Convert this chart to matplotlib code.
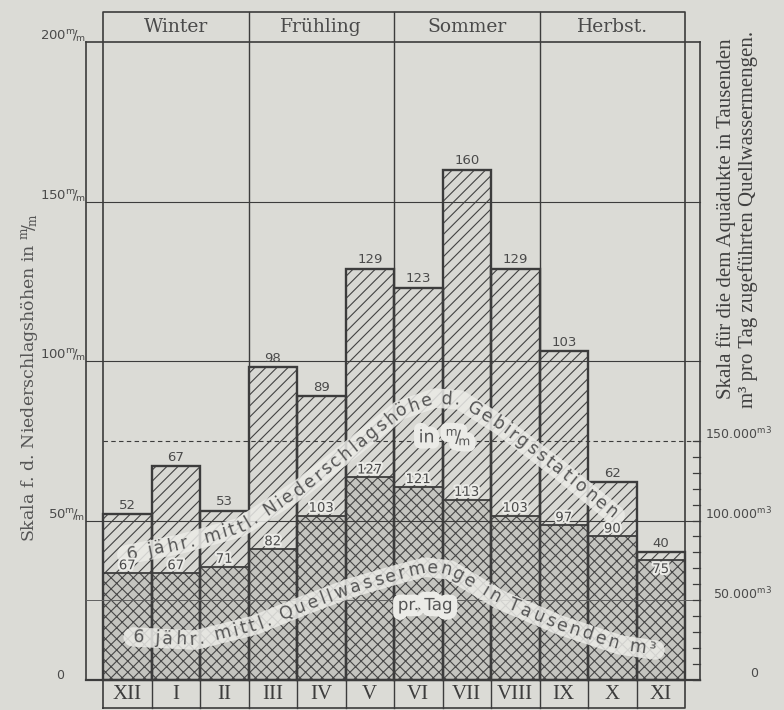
import numpy as np
import matplotlib
matplotlib.use("Agg")
import matplotlib.pyplot as plt
from matplotlib import patheffects as pe
from matplotlib.font_manager import FontProperties

plt.rcParams['mathtext.default'] = 'regular'
plt.rcParams['hatch.linewidth'] = 0.8

# Monatswerte, Dezember bis November
monate = ["XII", "I", "II", "III", "IV", "V", "VI", "VII", "VIII", "IX", "X", "XI"]
jahreszeiten = ["Winter", "Frühling", "Sommer", "Herbst."]
niederschlag = [52, 67, 53, 98, 89, 129, 123, 160, 129, 103, 62, 40]      # mm
quellwasser = [67, 67, 71, 82, 103, 127, 121, 113, 103, 97, 90, 75]       # Tausend m3 pro Tag
skala_links = [0, 50, 100, 150, 200]
skala_rechts = [0, 50, 100, 150]                                        # Tausend m3
skala_rechts_text = ["0", "50.000", "100.000", "150.000"]

MM_PRO_TSD_M3 = 50 / 100      # 100.000 m3 entsprechen 50 mm

papier = '#dbdbd6'
linie = '#3c3c3c'
schrift = '#4a4a4a'
hell = '#ebebe7'

fig = plt.figure(figsize=(7.84, 7.1), dpi=100)
fig.patch.set_facecolor(papier)
ax = fig.add_axes([0, 0, 1, 1])
ax.set_xlim(-2.124, 14.04)
ax.set_ylim(-9.40, 213.2)
ax.axis('off')

x = np.arange(len(monate)) + 0.5
quell_mm = np.array(quellwasser) * MM_PRO_TSD_M3

# Balken
ax.bar(x, niederschlag, width=1, color='#d8d8d3', hatch='///', edgecolor='#424242', linewidth=0, zorder=2)
ax.bar(x, quell_mm, width=1, color='#c4c4bf', hatch='xxx', edgecolor='#474747', linewidth=0, zorder=3)
ax.bar(x, niederschlag, width=1, fill=False, edgecolor=linie, linewidth=1.7, zorder=4)
ax.bar(x, quell_mm, width=1, fill=False, edgecolor=linie, linewidth=1.3, zorder=4)

halo = [pe.withStroke(linewidth=3, foreground=hell)]
for xi, n, q, qv in zip(x, niederschlag, quell_mm, quellwasser):
    ax.text(xi, n + 0.8, str(n), ha='center', va='bottom', fontsize=9.5, color=schrift, zorder=8)
    if n - q > 5:
        ax.text(xi, q + 0.3, str(qv), ha='center', va='bottom', fontsize=9.5, color=schrift,
                path_effects=halo, zorder=8)
    else:
        ax.text(xi, q - 0.8, str(qv), ha='center', va='top', fontsize=9.5, color=schrift,
                path_effects=halo, zorder=8)

# Rahmen, Achsen und Hilfslinien
xl, xr = -0.35, 12.3
ax.plot([xl, xl], [0, 200], color=linie, lw=1.2, zorder=5)
ax.plot([xr, xr], [0, 200], color=linie, lw=1.2, zorder=5)
ax.plot([xl, xr], [0, 0], color=linie, lw=1.6, zorder=5)
ax.plot([0, 0, 12, 12, 0], [-8.8, 209.4, 209.4, -8.8, -8.8], color=linie, lw=1.2, zorder=5)
for s in [3, 6, 9]:
    ax.plot([s, s], [0, 209.4], color=linie, lw=1.0, zorder=1.5)
for i in range(1, 12):
    ax.plot([i, i], [-8.8, 0], color=linie, lw=1.0, zorder=5)
for v in skala_links[1:]:
    ax.plot([xl, xr], [v, v], color=linie, lw=0.8 if v < 200 else 1.2, zorder=5)
for v in skala_rechts[1:]:
    mm = v * MM_PRO_TSD_M3
    if v == 150:
        ax.plot([0, xr], [mm, mm], color=linie, lw=0.8, ls=(0, (4, 3)), zorder=5)
    elif v == 50:
        ax.plot([xl, xr], [mm, mm], color='#606060', lw=0.7, zorder=5)
for t in np.arange(0, 151, 10):
    mm = t * MM_PRO_TSD_M3
    ax.plot([xr - 0.14, xr], [mm, mm], color=linie, lw=0.9, zorder=5)

for v in skala_links:
    if v == 0:
        ax.text(xl - 0.45, v + 1.5, "0", ha='right', va='center', fontsize=9, color=schrift)
    else:
        ax.text(xl - 0.02, v + 1.5, str(v) + r"$^{m}\!/\!_{m}$", ha='right', va='center',
                fontsize=9.5, color=schrift)
for v, lab in zip(skala_rechts, skala_rechts_text):
    mm = v * MM_PRO_TSD_M3
    if v == 0:
        ax.text(13.5, mm + 2, lab, ha='right', va='center', fontsize=9, color=schrift)
    else:
        ax.text(13.8, mm + 2, lab + r"$^{m3}$", ha='right', va='center', fontsize=9, color=schrift)

serif = FontProperties(family='DejaVu Serif', size=13.5)
for i, name in enumerate(jahreszeiten):
    ax.text(3 * i + 1.5, 204.6, name, ha='center', va='center', fontproperties=serif, color=schrift)
for xi, m in zip(x, monate):
    ax.text(xi, -4.4, m, ha='center', va='center', family='Liberation Serif', fontsize=15, color=linie)

ax.text(-1.5, 94.7, r"Skala f. d. Niederschlagshöhen in $^{m}\!/\!_{m}$", rotation=90,
        ha='center', va='center', family='DejaVu Serif', fontsize=12.5, color='#555555')
ax.text(13.07, 144.5, "Skala für die dem Aquädukte in Tausenden\nm³ pro Tag zugeführten Quellwassermengen.",
        rotation=90, ha='center', va='center', family='Liberation Serif', fontsize=15,
        color='#404040', linespacing=1.1)


def text_auf_kurve(s, punkte, size=12.5):
    # Buchstaben einzeln entlang eines Linienzugs setzen
    punkte = np.asarray(punkte, float)
    ax.plot(punkte[:, 0], punkte[:, 1], color=hell, lw=14, alpha=0.85,
            solid_joinstyle='round', solid_capstyle='round', zorder=6)
    disp = ax.transData.transform(punkte)
    dist = np.concatenate([[0], np.cumsum(np.hypot(*np.diff(disp, axis=0).T))])
    renderer = fig.canvas.get_renderer()
    prop = FontProperties(family='DejaVu Sans', size=size)
    px = size * fig.dpi / 72
    breiten = []
    for ch in s:
        if ch == ' ':
            breiten.append(0.3 * px)
        else:
            w, h, d = renderer.get_text_width_height_descent(ch, prop, ismath=False)
            breiten.append(w)
    breiten = np.array(breiten)
    luecke = (dist[-1] - breiten.sum()) / (len(s) - 1)
    pos = np.concatenate([[0], np.cumsum(breiten[:-1] + luecke)]) + breiten / 2
    inv = ax.transData.inverted()
    for ch, p in zip(s, pos):
        if ch == ' ':
            continue
        cx, cy = np.interp(p, dist, disp[:, 0]), np.interp(p, dist, disp[:, 1])
        a = np.clip([p - 12, p + 12], 0, dist[-1])
        dx = np.diff(np.interp(a, dist, disp[:, 0]))[0]
        dy = np.diff(np.interp(a, dist, disp[:, 1]))[0]
        ang = np.arctan2(dy, dx)
        bx = cx + np.sin(ang) * 0.3 * px
        by = cy - np.cos(ang) * 0.3 * px
        xd, yd = inv.transform((bx, by))
        ax.text(xd, yd, ch, rotation=np.degrees(ang), rotation_mode='anchor', ha='center',
                va='baseline', fontproperties=prop, color='#555555', zorder=7)


kurve_niederschlag = [(0.49, 39.3), (1.59, 42.6), (2.82, 47.8), (4.06, 59.9), (5.09, 72.1),
                      (6.12, 84.6), (6.85, 88.4), (7.36, 87.8), (8.19, 79.9), (9.42, 65.8),
                      (10.56, 51.7)]
kurve_quelle = [(0.62, 13.5), (1.90, 12.5), (3.13, 17.2), (4.06, 22.9), (5.09, 28.8),
                (6.02, 32.9), (6.64, 35.4), (7.15, 34.5), (7.67, 29.8), (8.19, 25.1),
                (9.42, 17.2), (10.66, 11.0), (11.38, 9.4)]

text_auf_kurve("6 jähr. mittl. Niederschlagshöhe d. Gebirgsstationen", kurve_niederschlag)
text_auf_kurve("6 jähr. mittl. Quellwassermenge in Tausenden m³", kurve_quelle)

band = [pe.withStroke(linewidth=9, foreground=hell)]
ax.text(7.05, 76.2, r"in  $^{m}\!/\!_{m}$", ha='center', va='center', fontsize=12.5,
        color='#555555', path_effects=band, zorder=7)
ax.text(6.64, 23.5, "pr. Tag", ha='center', va='center', fontsize=12,
        color='#555555', path_effects=band, zorder=7)

fig.savefig("out.png", dpi=100, facecolor=papier)
